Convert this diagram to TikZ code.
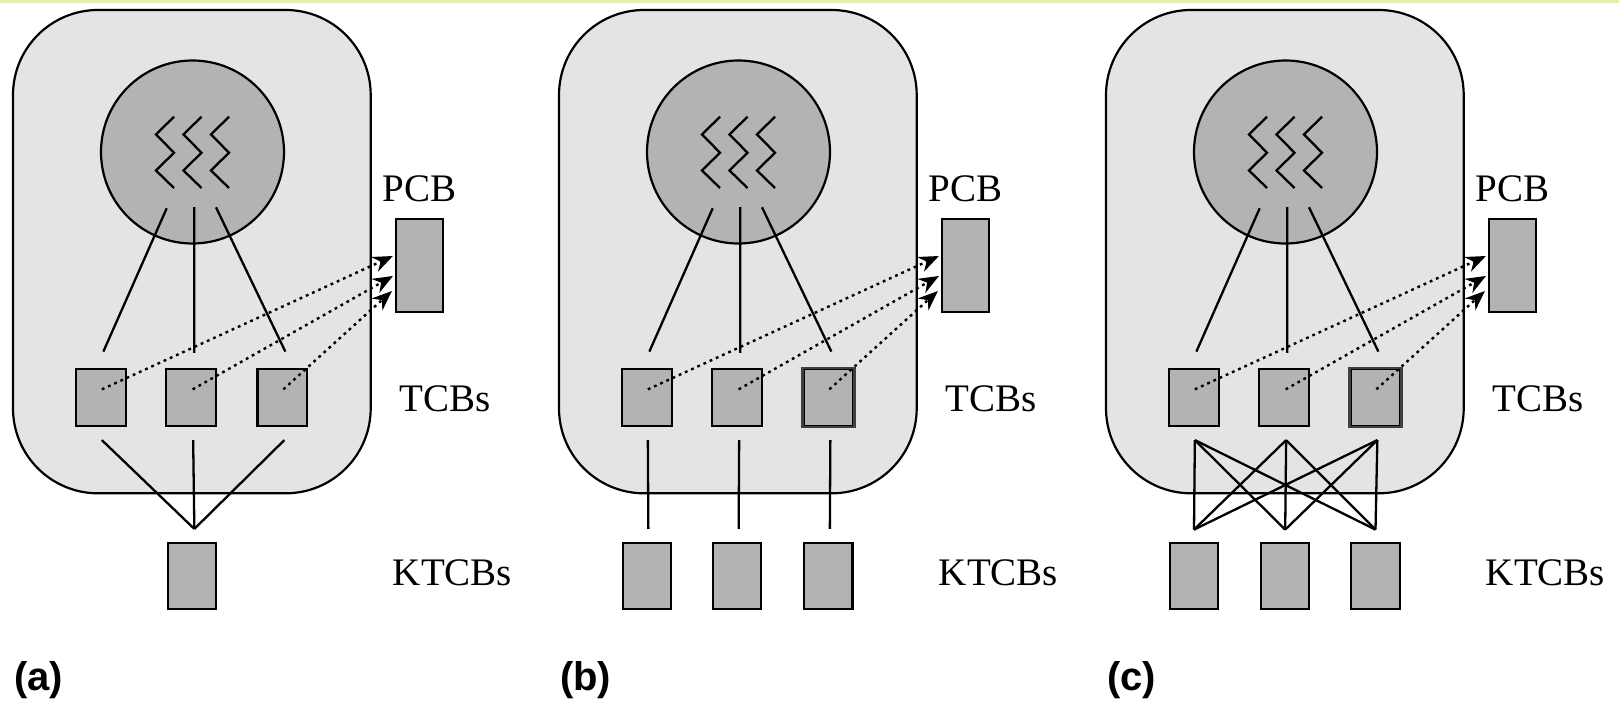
\documentclass[tikz,border=0pt]{standalone}
\usepackage{fontspec}
\setmainfont{Liberation Serif}
\newfontfamily\panelfont{Liberation Sans}
\usetikzlibrary{arrows.meta,calc}
\definecolor{outerfill}{RGB}{228,228,228}
\definecolor{innerfill}{RGB}{179,179,179}
\definecolor{topstrip}{RGB}{228,238,172}
\tikzset{
  proc/.style={draw, line width=2.2pt, fill=outerfill, rounded corners=85pt, minimum width=357.7pt, minimum height=483.3pt, inner sep=0pt},
  thr/.style={circle, draw, line width=2.2pt, fill=innerfill, minimum size=183pt, inner sep=0pt},
  blk/.style={draw, line width=2.2pt, fill=innerfill, inner sep=0pt},
  tcbbox/.style={blk, minimum width=49.7pt, minimum height=56.7pt},
  ktcbbox/.style={blk, minimum width=48.3pt, minimum height=66pt},
  pcbbox/.style={blk, minimum width=47.3pt, minimum height=93pt},
  link/.style={line width=2.3pt},
  ptr/.style={line width=2.4pt, dash pattern=on 2.8pt off 4pt, -{Stealth[length=20pt,width=16pt]}},
  zig/.style={line width=2.3pt},
  lbl/.style={anchor=base west, inner sep=0pt, font=\fontsize{39}{44}\selectfont},
  captxt/.style={anchor=base west, inner sep=0pt, font=\panelfont\bfseries\fontsize{40}{46}\selectfont},
}
\newcommand\drawpanel[3]{%
  \begin{scope}[xshift=#1pt]
    \node[proc] (#2-proc) at (191.85,251.65) {};
    \node[thr] (#2-thr) at (192.5,152) {};
    \foreach \dx in {0,27.5,55}
      \draw[zig] (174+\dx,116.7) -- (156+\dx,134.5) -- (174+\dx,152.7) -- (156+\dx,170.5) -- (174+\dx,188);
    \node[tcbbox] (#2-t1) at (100.85,397.65) {};
    \node[tcbbox] (#2-t2) at (191.15,397.65) {};
    \node[tcbbox] (#2-t3) at (282.35,397.65) {};
    \node[pcbbox] (#2-pcb) at (419.65,265.8) {};
    \coordinate (#2-c1) at (166.7,208.3);
    \coordinate (#2-c2) at (194.3,207);
    \coordinate (#2-c3) at (216,207.3);
    \coordinate (#2-t1a) at ($(#2-t1.north)+(2.5,-16.6)$);
    \coordinate (#2-t2a) at ($(#2-t2.north)+(3,-15.3)$);
    \coordinate (#2-t3a) at ($(#2-t3.north)+(3,-16.6)$);
    \draw[link] (#2-c1) -- (#2-t1a);
    \draw[link] (#2-c2) -- (#2-t2a);
    \draw[link] (#2-c3) -- (#2-t3a);
    \coordinate (#2-t1b) at ($(#2-t1.south)+(1,13)$);
    \coordinate (#2-t2b) at ($(#2-t2.south)+(2,13)$);
    \coordinate (#2-t3b) at ($(#2-t3.south)+(2,13)$);
    \coordinate (#2-s1) at ($(#2-t1.center)+(1,-8.3)$);
    \coordinate (#2-s2) at ($(#2-t2.center)+(1.5,-8.3)$);
    \coordinate (#2-s3) at ($(#2-t3.center)+(1,-8.3)$);
    \coordinate (#2-p1) at ($(#2-pcb.west)+(-2,-9.8)$);
    \coordinate (#2-p2) at ($(#2-pcb.west)+(-2,10.2)$);
    \coordinate (#2-p3) at ($(#2-pcb.west)+(-3,25.2)$);
    \draw[ptr] (#2-s1) -- (#2-p1);
    \draw[ptr] (#2-s2) -- (#2-p2);
    \draw[ptr] (#2-s3) -- (#2-p3);
    \node[lbl] (#2-pcbl) at (382.7,201.7) {PCB};
    \node[lbl] (#2-tcbl) at (399.3,411.7) {TCBs};
    \node[lbl] (#2-ktcbl) at (392.7,585) {KTCBs};
    \node[captxt] (#2-cap) at (14,690) {#3};
  \end{scope}}
\begin{document}
\begin{tikzpicture}[x=1pt,y=-1pt]
  \useasboundingbox (0,0) rectangle (1619,701);
  \fill[white] (0,0) rectangle (1619,701);
  \fill[topstrip] (0,0) rectangle (1619,3);
  % panel (a)
  \drawpanel{0}{a}{(a)}
  \node[ktcbbox] (a-k) at (191.85,575.7) {};
  \coordinate (a-kt) at ($(a-k.north)+(2.5,-12.7)$);
  \foreach \i in {1,2,3} \draw[link] (a-t\i b) -- (a-kt);
  % panel (b)
  \drawpanel{546}{b}{(b)}
  \draw[line width=2.5pt, black!75] (b-t3.south west) rectangle (b-t3.north east);
  \foreach \i/\x in {1/100.85,2/191.15,3/282.35} {
    \node[ktcbbox] (b-k\i) at (546+\x,575.7) {};
    \coordinate (b-k\i t) at ($(b-k\i.north)+(1.5,-12.7)$);
    \draw[link] (b-t\i b) -- (b-k\i t);
  }
  % panel (c)
  \drawpanel{1093}{c}{(c)}
  \draw[line width=2.5pt, black!75] (c-t3.south west) rectangle (c-t3.north east);
  \foreach \i/\x in {1/101,2/192.2,3/282.5} {
    \node[ktcbbox] (c-k\i) at (1093+\x,575.7) {};
    \coordinate (c-k\i t) at ($(c-k\i.north)+(0,-12)$);
  }
  \foreach \i in {1,2,3}
    \foreach \j in {1,2,3}
      \draw[link] (c-t\i b) -- (c-k\j t);
\end{tikzpicture}
\end{document}
